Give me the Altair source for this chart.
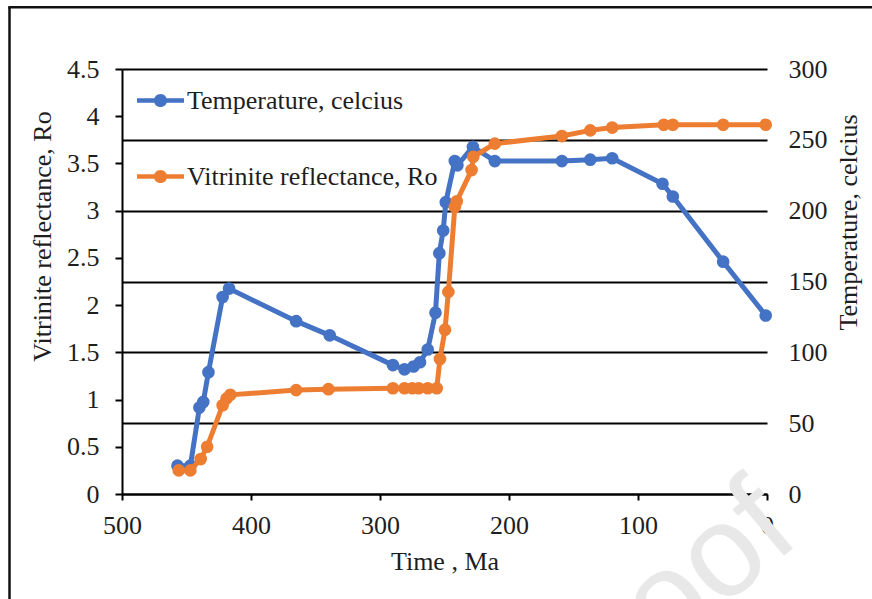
import altair as alt
import pandas as pd

# ---- data ----
temp_time = [457, 447, 440, 437, 433, 422, 417, 365, 339, 290, 281, 274, 269, 263, 257, 254, 251, 249, 242, 240, 228, 211, 159, 137, 120, 81, 73, 34, 1]
temp_vals = [20, 20, 61, 65, 86, 139, 145, 122, 112, 91, 88, 90, 93, 102, 128, 170, 186, 206, 235, 232, 245, 235, 235, 236, 237, 219, 210, 164, 126]

ro_time = [456, 447, 439, 434, 422, 419, 416, 365, 340, 290, 281, 275, 270, 263, 256, 253.5, 249.6, 247, 242, 240.5, 229, 227.7, 211, 159, 137, 120, 80, 73, 34, 1]
ro_vals = [0.25, 0.25, 0.37, 0.5, 0.94, 1.01, 1.05, 1.10, 1.11, 1.12, 1.12, 1.12, 1.12, 1.12, 1.12, 1.43, 1.74, 2.14, 3.04, 3.10, 3.43, 3.57, 3.71, 3.79, 3.85, 3.88, 3.91, 3.91, 3.91, 3.91]

series_names = ["Temperature, celcius", "Vitrinite reflectance, Ro"]
series_colors = ["#4472C4", "#ED7D31"]
x_ticks = [500, 400, 300, 200, 100, 0]
ro_ticks = [0, 0.5, 1, 1.5, 2, 2.5, 3, 3.5, 4, 4.5]
temp_ticks = [0, 50, 100, 150, 200, 250, 300]

temp_df = pd.DataFrame({"time": temp_time, "value": temp_vals, "series": series_names[0]})
ro_df = pd.DataFrame({"time": ro_time, "value": ro_vals, "series": series_names[1]})

W, H = 645, 425
FONT = "Liberation Serif"
FS = 26
TXT = "#1e1e1e"

color_scale = alt.Scale(domain=series_names, range=series_colors)

# custom legend symbol: a short thick line with a dot in the middle
SYM = ("M-1,-0.1L1,-0.1L1,0.1L-1,0.1Z "
       "M-0.28,0A0.28,0.28 0 1,1 0.28,0A0.28,0.28 0 1,1 -0.28,0Z")
legend = alt.Legend(
    title=None, orient="none", legendX=15, legendY=8,
    symbolType=SYM, symbolSize=2209, symbolStrokeWidth=0, symbolOpacity=1,
    labelFont=FONT, labelFontSize=FS, labelColor=TXT, labelOffset=3,
    labelLimit=0, rowPadding=39,
)

x_enc = alt.X(
    "time:Q",
    scale=alt.Scale(domain=[500, 0], nice=False),
    axis=alt.Axis(
        values=x_ticks, title="Time , Ma", grid=False, labelFlush=False,
        domainColor="black", domainWidth=2, tickColor="black", tickWidth=2, tickSize=6,
        labelFont=FONT, labelFontSize=FS, labelColor=TXT, labelPadding=12,
        titleFont=FONT, titleFontSize=FS, titleFontWeight="normal", titleColor=TXT,
        titleBaseline="alphabetic", titleY=75,
    ),
)

temp_axis = alt.Axis(
    orient="right", values=temp_ticks, grid=True, gridColor="black", gridWidth=2,
    domain=False, ticks=False, labelFlush=False,
    labelFont=FONT, labelFontSize=FS, labelColor=TXT,
    labelPadding=21, labelAlign="left",
    title="Temperature, celcius", titleFont=FONT, titleFontSize=FS,
    titleFontWeight="normal", titleColor=TXT, titleAngle=270,
    titleBaseline="middle", titleAlign="center", titleX=81, titleY=153,
)
ro_axis = alt.Axis(
    orient="left", values=ro_ticks, grid=False, format="~g", labelFlush=False,
    domainColor="black", domainWidth=2, tickColor="black", tickWidth=2, tickSize=7,
    labelFont=FONT, labelFontSize=FS, labelColor=TXT, labelPadding=16,
    title="Vitrinite reflectance, Ro", titleFont=FONT, titleFontSize=FS,
    titleFontWeight="normal", titleColor=TXT, titleAngle=270,
    titleBaseline="middle", titleAlign="center", titleX=-80, titleY=167,
)

temp_y = alt.Y("value:Q", scale=alt.Scale(domain=[0, 300], nice=False), axis=temp_axis)
ro_y = alt.Y("value:Q", scale=alt.Scale(domain=[0, 4.5], nice=False), axis=ro_axis)

temp_line = alt.Chart(temp_df).mark_line(strokeWidth=5, color=series_colors[0]).encode(
    x=x_enc, y=temp_y, order=alt.Order("time:Q", sort="descending"))
temp_pts = alt.Chart(temp_df).mark_point(filled=True, size=160, opacity=1).encode(
    x=x_enc, y=temp_y, color=alt.Color("series:N", scale=color_scale, legend=legend))
ro_line = alt.Chart(ro_df).mark_line(strokeWidth=5, color=series_colors[1]).encode(
    x=x_enc, y=ro_y, order=alt.Order("time:Q", sort="descending"))
ro_pts = alt.Chart(ro_df).mark_point(filled=True, size=160, opacity=1).encode(
    x=x_enc, y=ro_y, color=alt.Color("series:N", scale=color_scale, legend=legend))

temp_group = alt.layer(temp_line, temp_pts)
ro_group = alt.layer(ro_line, ro_pts)

one = alt.Data(values=[{}])
watermark = alt.Chart(one).mark_text(
    text="Journal Pre-proof", angle=320, align="right", baseline="alphabetic",
    fontSize=130, font="Liberation Sans", color="#e8e8e8",
).encode(x=alt.value(681), y=alt.value(471))

frame_left = alt.Chart(one).mark_rule(color="#111", strokeWidth=2.5).encode(
    x=alt.value(-112.5), y=alt.value(-62), y2=alt.value(H + 200))
frame_top = alt.Chart(one).mark_rule(color="#111", strokeWidth=2.5).encode(
    x=alt.value(-113.7), x2=alt.value(W + 200), y=alt.value(-61.7))

chart = alt.layer(watermark, frame_left, frame_top, temp_group, ro_group).resolve_scale(
    y="independent"
).properties(
    width=W, height=H,
    autosize=alt.AutoSizeParams(type="none"),
    padding={"left": 122, "top": 69, "right": 105, "bottom": 105},
    background="white",
).configure_view(stroke=None)

chart.save("out.html", embed_options={"renderer": "svg", "actions": False})
